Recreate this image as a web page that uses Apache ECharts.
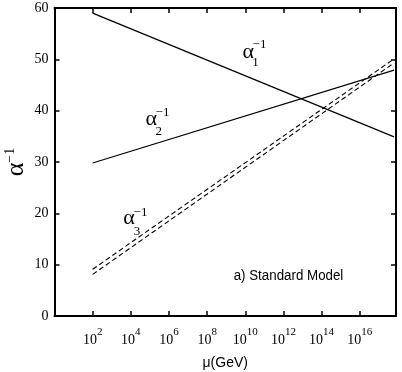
<!DOCTYPE html>
<html>
<head>
<meta charset="utf-8">
<script src="https://cdn.jsdelivr.net/npm/echarts@6/dist/echarts.min.js"></script>
<style>
  html, body { margin: 0; padding: 0; background: #fff; }
  #chart { width: 402px; height: 372px; }
</style>
</head>
<body>
<div id="chart"></div>
<script>
// log10(mu / GeV) at the two ends of each running line
const logMu = [2, 17.8]
// inverse couplings
const alpha1 = [59.0, 34.9]
const alpha2 = [29.8, 47.9]
const alpha3Low = [8.1, 49.3]
const alpha3High = [9.1, 50.1]
// x tick exponents (10^n) and y ticks
const xTickExp = [2, 4, 6, 8, 10, 12, 14, 16]
const yTicks = [0, 10, 20, 30, 40, 50, 60]

const serif = '"Liberation Serif", "DejaVu Serif", serif'
const sans = '"Liberation Sans", Arial, sans-serif'

const pairs = (ys) => logMu.map((x, i) => [x, ys[i]])

const chart = echarts.init(document.getElementById('chart'))

const lineStyle = { color: '#000', width: 1.2 }
const dashStyle = { color: '#000', width: 1.1, type: [5, 3] }

// text label helper for the alpha annotations
const txt = (s, x, y, size) => ({
  type: 'text',
  x: x,
  y: y,
  style: {
    text: s,
    font: size + 'px ' + serif,
    fill: '#000',
    align: 'center',
    verticalAlign: 'middle',
    textAlign: 'center',
    textVerticalAlign: 'middle'
  }
})

// ticks point into the plot, frame sits on the grid edges
const tick = () => ({ show: true, inside: true, length: 5, lineStyle: { color: '#000', width: 1.5 } })
const frame = () => ({ show: true, onZero: false, lineStyle: { color: '#000', width: 2 } })

const option = {
  animation: false,
  grid: { left: 54.5, right: 6, top: 8, bottom: 56, containLabel: false, outerBoundsMode: 'none' },
  xAxis: [
    {
      type: 'value',
      position: 'bottom',
      min: 0,
      max: 17.9,
      interval: 2,
      name: 'μ(GeV)',
      nameLocation: 'middle',
      nameGap: 40,
      nameMoveOverlap: false,
      nameTextStyle: { fontFamily: sans, fontSize: 14, color: '#000' },
      axisLine: frame(),
      axisTick: tick(),
      splitLine: { show: false },
      axisLabel: {
        margin: 11,
        showMaxLabel: false,
        formatter: (v) => xTickExp.includes(v) ? '{b|10}{s|' + v + '}' : '',
        rich: {
          b: { fontFamily: serif, fontSize: 14, color: '#000', lineHeight: 20, verticalAlign: 'bottom' },
          s: { fontFamily: serif, fontSize: 11, color: '#000', lineHeight: 20, verticalAlign: 'top' }
        }
      }
    },
    {
      type: 'value',
      position: 'top',
      min: 0,
      max: 17.9,
      interval: 2,
      axisLine: frame(),
      axisTick: tick(),
      axisLabel: { show: false },
      splitLine: { show: false }
    }
  ],
  yAxis: [
    {
      type: 'value',
      position: 'left',
      min: yTicks[0],
      max: yTicks[yTicks.length - 1],
      interval: 10,
      name: '{a|α}{s|−1}',
      nameLocation: 'middle',
      nameRotate: 90,
      nameGap: 25,
      nameMoveOverlap: false,
      nameTextStyle: {
        rich: {
          a: { fontFamily: serif, fontSize: 26, color: '#000', lineHeight: 26, verticalAlign: 'bottom' },
          s: { fontFamily: serif, fontSize: 14, color: '#000', lineHeight: 26, verticalAlign: 'top' }
        }
      },
      axisLine: frame(),
      axisTick: tick(),
      splitLine: { show: false },
      axisLabel: { fontFamily: serif, fontSize: 14, color: '#000', margin: 6 }
    },
    {
      type: 'value',
      position: 'right',
      min: yTicks[0],
      max: yTicks[yTicks.length - 1],
      interval: 10,
      axisLine: frame(),
      axisTick: tick(),
      axisLabel: { show: false },
      splitLine: { show: false }
    }
  ],
  series: [
    { name: 'alpha1', type: 'line', data: pairs(alpha1), symbol: 'none', lineStyle: lineStyle },
    { name: 'alpha2', type: 'line', data: pairs(alpha2), symbol: 'none', lineStyle: lineStyle },
    { name: 'alpha3 low', type: 'line', data: pairs(alpha3Low), symbol: 'none', lineStyle: dashStyle },
    { name: 'alpha3 high', type: 'line', data: pairs(alpha3High), symbol: 'none', lineStyle: dashStyle }
  ],
  graphic: [
    txt('α', 248.3, 52, 22), txt('−1', 259.5, 44.5, 13), txt('1', 255.5, 62.5, 13),
    txt('α', 151.3, 119, 22), txt('−1', 162.5, 113, 13), txt('2', 158.7, 131.5, 13),
    txt('α', 129, 218, 22), txt('−1', 140.5, 212.5, 13), txt('3', 137, 232, 13),
    {
      type: 'text',
      x: 288.5,
      y: 275.5,
      scaleX: 0.86,
      style: {
        text: 'a) Standard Model',
        font: '15.5px ' + sans,
        fill: '#000',
        align: 'center',
        verticalAlign: 'middle',
        textAlign: 'center',
        textVerticalAlign: 'middle'
      }
    }
  ]
}

chart.setOption(option)
</script>
</body>
</html>
